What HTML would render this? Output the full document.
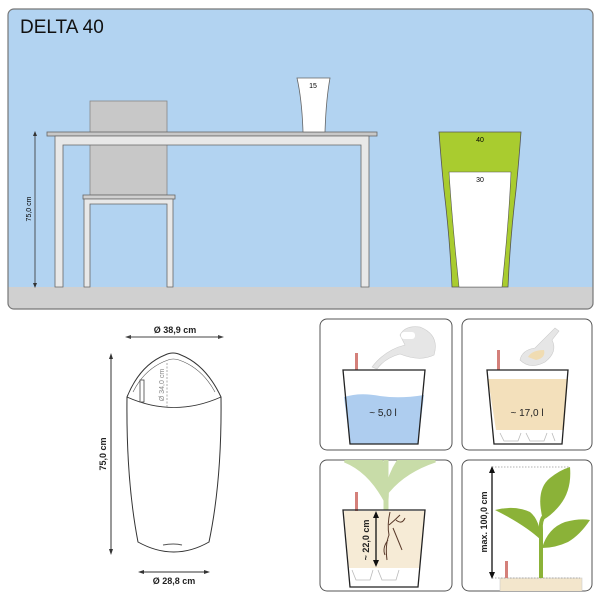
<!DOCTYPE html>
<html><head><meta charset="utf-8"><style>
html,body{margin:0;padding:0;background:#fff;width:601px;height:600px;overflow:hidden}
svg{display:block}
text{font-family:"Liberation Sans",sans-serif}
</style></head><body>
<svg width="601" height="600" viewBox="0 0 601 600" xmlns="http://www.w3.org/2000/svg">
<defs><clipPath id="tp"><rect x="8" y="9" width="585" height="300" rx="6"/></clipPath>
<clipPath id="p3"><rect x="320" y="460" width="132" height="131" rx="7"/></clipPath>
<clipPath id="p4"><rect x="462" y="460" width="130" height="131" rx="7"/></clipPath></defs>
<!-- top panel -->
<g clip-path="url(#tp)">
<rect x="8" y="9" width="585" height="300" fill="#b2d3f1"/>
<rect x="8" y="287" width="585" height="22" fill="#d0d0d0"/>
</g>
<rect x="8" y="9" width="585" height="300" rx="6" fill="none" stroke="#777" stroke-width="1.2"/>
<text x="20" y="33" font-size="19" fill="#111">DELTA 40</text>
<!-- chair back -->
<rect x="90" y="101" width="77" height="94" fill="#c8c8c8" stroke="#888" stroke-width="0.8"/>
<!-- table -->
<rect x="47" y="132" width="330" height="4" fill="#c8c8c8" stroke="#666" stroke-width="0.8"/>
<path d="M55 136 H369 V287 H361 V145 H63 V287 H55 Z" fill="#e8e8e8" stroke="#666" stroke-width="0.8"/>
<!-- chair seat -->
<rect x="83" y="195" width="92" height="4" fill="#d0d0d0" stroke="#666" stroke-width="0.8"/>
<path d="M84 199 H173 V287 H167 V204 H90 V287 H84 Z" fill="#e8e8e8" stroke="#666" stroke-width="0.8"/>
<!-- small pot -->
<path d="M297 78 H330 Q326 100 325 132 H303 Q302 100 297 78 Z" fill="#fff" stroke="#666" stroke-width="0.8"/>
<text x="313" y="88" font-size="7" text-anchor="middle">15</text>
<!-- big pot -->
<path d="M439 132 H521 Q519 160 516 190 Q510 240 508 287 H452 Q450 240 444 190 Q441 160 439 132 Z" fill="#a9cc2f" stroke="#555" stroke-width="0.8"/>
<path d="M449 172 H511 Q509 220 502 287 H459 Q452 220 449 172 Z" fill="#fff" stroke="#555" stroke-width="0.6"/>
<text x="480" y="142" font-size="7" text-anchor="middle">40</text>
<text x="480" y="182" font-size="7" text-anchor="middle">30</text>
<!-- dimension -->
<line x1="35" y1="134" x2="35" y2="285" stroke="#333" stroke-width="0.8"/>
<path d="M33 136 L35 131 L37 136 Z M33 283 L35 288 L37 283 Z" fill="#333"/>
<text transform="translate(31,209) rotate(-90)" font-size="7" text-anchor="middle">75,0 cm</text>

<!-- left pot drawing -->
<line x1="129" y1="337" x2="220" y2="337" stroke="#444" stroke-width="1"/>
<path d="M131 335 L125 337 L131 339 Z M218 335 L224 337 L218 339 Z" fill="#444"/>
<text x="175" y="333" font-size="9" font-weight="bold" text-anchor="middle" fill="#222">Ø 38,9 cm</text>
<path d="M127 397 Q140 365 165 355 Q173 351 181 355 Q206 365 221 397 Q222 480 209 542 Q174 562 138 542 Q126 480 127 397 Z" fill="#fff" stroke="#333" stroke-width="1"/>
<path d="M127 397 Q174 418 221 397" fill="none" stroke="#333" stroke-width="0.8"/>
<path d="M133 392 Q145 368 168 360 Q173 358 179 360 Q202 368 215 392" fill="none" stroke="#555" stroke-width="0.6"/>
<line x1="167" y1="363" x2="167" y2="407" stroke="#999" stroke-width="0.8" stroke-dasharray="2,1.5"/>
<text transform="translate(164,385) rotate(-90)" font-size="7" text-anchor="middle" fill="#888">Ø 34,0 cm</text>
<rect x="140" y="380" width="4" height="22" fill="#fff" stroke="#444" stroke-width="0.8"/>
<path d="M163 545 Q174 543 182 545" stroke="#555" stroke-width="1" fill="none"/>
<line x1="111" y1="355" x2="111" y2="553" stroke="#333" stroke-width="1"/>
<path d="M109 359 L111 353 L113 359 Z M109 549 L111 555 L113 549 Z" fill="#333"/>
<text transform="translate(106,454) rotate(-90)" font-size="9" font-weight="bold" text-anchor="middle" fill="#222">75,0 cm</text>
<line x1="142" y1="572" x2="206" y2="572" stroke="#333" stroke-width="1"/>
<path d="M144 570 L138 572 L144 574 Z M204 570 L210 572 L204 574 Z" fill="#333"/>
<text x="174" y="584" font-size="9" font-weight="bold" text-anchor="middle" fill="#222">Ø 28,8 cm</text>

<!-- panel 1 -->
<rect x="320" y="319" width="132" height="131" rx="7" fill="#fff" stroke="#555" stroke-width="1"/>
<path d="M372 367 Q385 350 405 345 L400 335 Q405 325 420 327 Q440 335 434 355 Q420 362 400 354 Q385 358 377 369 Z" fill="#e6e6e6" stroke="#ccc" stroke-width="0.6"/>
<rect x="401" y="332" width="14" height="7" rx="3" fill="#fff"/>
<rect x="355" y="353" width="3" height="17" fill="#d4807a"/>
<path d="M344 397 Q360 392 380 396 Q400 399 424 395 L418 444 H350 Z" fill="#aecdef"/>
<path d="M343 370 H425 L418 444 H350 Z" fill="none" stroke="#222" stroke-width="1.3"/>
<text x="383" y="416" font-size="10" text-anchor="middle" fill="#222">~ 5,0 l</text>

<!-- panel 2 -->
<rect x="462" y="319" width="130" height="131" rx="7" fill="#fff" stroke="#555" stroke-width="1"/>
<path d="M520 360 Q522 350 535 348 L548 335 L555 328 L559 331 L552 340 Q558 352 545 362 Q530 370 520 360 Z" fill="#e6e6e6" stroke="#ccc" stroke-width="0.6"/>
<path d="M528 357 Q532 350 544 350 Q546 358 536 360 Z" fill="#f0dcb2"/>
<rect x="497" y="350" width="3" height="20" fill="#d4807a"/>
<path d="M488 379 H568 L564 430 H496 Z" fill="#f3e0bb"/>
<path d="M496 430 H564 L562 444 H494 Z" fill="#fff"/>
<path d="M500 433 L504 441 H518 L521 433 M526 433 L530 441 H544 L547 433 M552 433 L555 441" fill="none" stroke="#bbb" stroke-width="0.8"/>
<path d="M487 370 H568 L562 444 H494 Z" fill="none" stroke="#222" stroke-width="1.3"/>
<text x="527" y="416" font-size="10" text-anchor="middle" fill="#222">~ 17,0 l</text>

<!-- panel 3 -->
<rect x="320" y="460" width="132" height="131" rx="7" fill="#fff" stroke="#555" stroke-width="1"/>
<g clip-path="url(#p3)">
<path d="M386 510 V460 M386 500 Q370 470 345 460 L380 460 Q388 478 386 500 Z M388 490 Q405 470 435 460 L400 460 Q390 475 388 490 Z" fill="#c8dca8" stroke="#c8dca8" stroke-width="5"/>
</g>
<rect x="355" y="492" width="3" height="19" fill="#d4807a"/>
<path d="M344 511 H425 L420 568 H349 Z" fill="#f6ebd6"/>
<path d="M349 568 H420 L418 587 H350 Z" fill="#fff"/>
<path d="M352 570 L356 580 H370 L373 570 M378 570 L382 580 H396 L399 570" fill="none" stroke="#bbb" stroke-width="0.8"/>
<path d="M343 510 H425 L418 587 H350 Z" fill="none" stroke="#222" stroke-width="1.3"/>
<path d="M390 512 Q387 525 389 535 Q385 545 387 560 M389 525 Q395 520 400 515 M393 528 Q398 540 402 550 M388 540 Q382 548 385 555 M396 520 Q402 525 405 518" fill="none" stroke="#5a3a2a" stroke-width="1"/>
<line x1="376" y1="514" x2="376" y2="564" stroke="#111" stroke-width="1.3"/>
<path d="M373 518 L376 511 L379 518 Z M373 560 L376 567 L379 560 Z" fill="#111"/>
<text transform="translate(369,540) rotate(-90)" font-size="9" font-weight="bold" text-anchor="middle" fill="#222">~ 22,0 cm</text>

<!-- panel 4 -->
<rect x="462" y="460" width="130" height="131" rx="7" fill="#fff" stroke="#555" stroke-width="1"/>
<g clip-path="url(#p4)">
<rect x="500" y="578" width="82" height="14" fill="#f3e6cc" stroke="#ccc" stroke-width="0.6"/>
</g>
<line x1="492" y1="467" x2="570" y2="467" stroke="#999" stroke-width="0.7" stroke-dasharray="1.5,1.5"/>
<line x1="492" y1="578" x2="580" y2="578" stroke="#999" stroke-width="0.7" stroke-dasharray="1.5,1.5"/>
<line x1="492" y1="469" x2="492" y2="576" stroke="#111" stroke-width="1.3"/>
<path d="M489 473 L492 466 L495 473 Z M489 572 L492 579 L495 572 Z" fill="#111"/>
<text transform="translate(487,522) rotate(-90)" font-size="9" font-weight="bold" text-anchor="middle" fill="#222">max. 100,0 cm</text>
<rect x="505" y="561" width="3" height="17" fill="#d4807a"/>
<path d="M541 578 V530 Q540 520 545 515" fill="none" stroke="#8bb238" stroke-width="4"/>
<path d="M543 520 Q535 490 550 478 Q560 470 570 467 Q572 490 560 505 Q552 515 543 520 Z" fill="#8bb238"/>
<path d="M541 540 Q525 525 495 510 Q515 505 530 512 Q540 520 541 540 Z" fill="#8bb238"/>
<path d="M542 548 Q548 528 565 522 Q580 518 590 520 Q580 535 568 542 Q555 548 542 548 Z" fill="#8bb238"/>
</svg>
</body></html>
